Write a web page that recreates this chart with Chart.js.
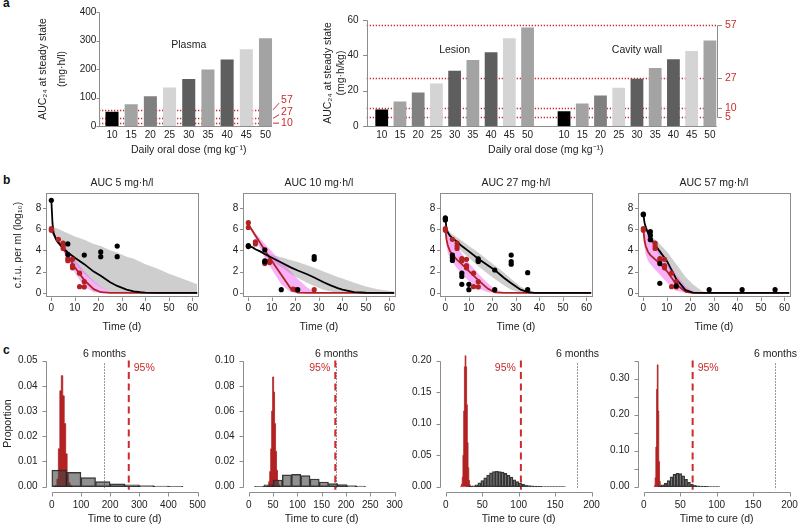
<!DOCTYPE html>
<html>
<head>
<meta charset="utf-8">
<script src="https://cdn.jsdelivr.net/npm/chart.js@4.4.1/dist/chart.umd.min.js"></script>
<style>
  body { margin: 0; background: #fff; width: 800px; height: 526px; overflow: hidden; position: relative; font-family: 'Liberation Sans', Arial, sans-serif; }
  canvas { position: absolute; }
  .tag { position: absolute; font-weight: bold; font-size: 12px; color: #111; }
</style>
</head>
<body>
<div class="tag" style="left:3px;top:-4px">a</div>
<div class="tag" style="left:3px;top:173px">b</div>
<div class="tag" style="left:3px;top:343px">c</div>
<script>
// ---------- panel a: AUC at steady state by dose
const doses = ['10', '15', '20', '25', '30', '35', '40', '45', '50'];
const plasmaAuc = [50, 76, 104, 135, 165, 198, 233, 269, 308];
const lesionAuc = [9.3, 13.8, 19, 24.1, 31.3, 37.4, 41.8, 49.7, 55.8];
const cavityAuc = [8.3, 12.8, 17.2, 21.7, 26.8, 32.9, 37.8, 42.5, 48.4];
const targetAuc = [5, 10, 27, 57];
const plasmaTargets = [10, 27, 57];
const plasmaTicks = [0, 100, 200, 300, 400];
const organTicks = [0, 20, 40, 60];

// ---------- panel b: c.f.u. over time (log10)
const aucLevels = [5, 10, 27, 57];
const tGrid = [0, 0.5, 1, 2, 3, 5, 7, 10, 14, 18, 21, 25, 28, 32, 35, 38, 40, 45, 50, 55, 62];

const median5 = [8.7, 6.5, 5.6, 5.0, 4.7, 4.2, 3.8, 3.3, 2.7, 2.0, 1.6, 1.0, 0.65, 0.3, 0.15, 0.06, 0.03, 0, 0, 0, 0];
const greyUp5 = [6.3, 6.25, 6.2, 6.1, 6.0, 5.8, 5.6, 5.3, 5.0, 4.6, 4.4, 4.0, 3.8, 3.4, 3.2, 2.9, 2.7, 2.3, 1.8, 1.4, 0.8];
const greyLo5 = [6.0, 5.7, 5.4, 4.9, 4.6, 4.0, 3.5, 2.7, 1.8, 1.0, 0.55, 0.15, 0.02, 0, 0, 0, 0, 0, 0, 0, 0];
const redMed5 = [6.0, 5.7, 5.5, 5.1, 4.8, 4.2, 3.5, 2.4, 1.2, 0.35, 0.06, 0, 0, 0, 0, 0, 0, 0, 0, 0, 0];
const pinkUp5 = [6.1, 5.9, 5.7, 5.35, 5.0, 4.5, 4.0, 3.1, 2.0, 1.1, 0.6, 0.15, 0, 0, 0, 0, 0, 0, 0, 0, 0];
const pinkLo5 = [5.9, 5.5, 5.3, 4.9, 4.6, 3.9, 3.1, 1.9, 0.6, 0.05, 0, 0, 0, 0, 0, 0, 0, 0, 0, 0, 0];

const median10 = [4.4, 4.38, 4.35, 4.25, 4.1, 3.9, 3.65, 3.3, 2.85, 2.4, 2.1, 1.75, 1.45, 1.0, 0.7, 0.45, 0.3, 0.07, 0.01, 0, 0];
const greyUp10 = [4.45, 4.43, 4.4, 4.3, 4.15, 3.95, 3.75, 3.55, 3.35, 3.1, 2.9, 2.6, 2.35, 2.0, 1.75, 1.5, 1.35, 0.95, 0.6, 0.35, 0.12];
const greyLo10 = [4.35, 4.33, 4.3, 4.2, 4.05, 3.8, 3.5, 3.0, 2.4, 1.8, 1.4, 0.95, 0.65, 0.3, 0.12, 0.04, 0.02, 0, 0, 0, 0];
const redMed10 = [6.4, 6.25, 6.1, 5.75, 5.4, 4.7, 4.0, 3.0, 1.7, 0.4, 0.02, 0, 0, 0, 0, 0, 0, 0, 0, 0, 0];
const pinkUp10 = [6.5, 6.35, 6.2, 5.9, 5.6, 5.1, 4.6, 3.9, 2.9, 2.0, 1.3, 0.5, 0.1, 0, 0, 0, 0, 0, 0, 0, 0];
const pinkLo10 = [6.3, 6.1, 5.9, 5.5, 5.1, 4.2, 3.3, 2.2, 0.8, 0.05, 0, 0, 0, 0, 0, 0, 0, 0, 0, 0, 0];

const median27 = [7.0, 6.0, 5.7, 5.35, 5.15, 4.8, 4.4, 3.9, 3.2, 2.6, 2.15, 1.4, 0.9, 0.3, 0.07, 0, 0, 0, 0, 0, 0];
const greyUp27 = [6.6, 6.2, 6.0, 5.7, 5.5, 5.2, 4.9, 4.4, 3.8, 3.1, 2.6, 1.9, 1.3, 0.6, 0.25, 0.05, 0, 0, 0, 0, 0];
const greyLo27 = [6.4, 5.7, 5.4, 5.1, 4.9, 4.4, 3.9, 3.3, 2.5, 1.8, 1.3, 0.7, 0.3, 0.02, 0, 0, 0, 0, 0, 0, 0];
const redMed27 = [6.0, 5.0, 4.5, 3.9, 3.6, 3.1, 2.7, 2.05, 1.2, 0.4, 0.05, 0, 0, 0, 0, 0, 0, 0, 0, 0, 0];
const pinkUp27 = [6.1, 5.8, 5.5, 5.2, 5.0, 4.4, 3.7, 2.8, 1.8, 0.9, 0.35, 0.03, 0, 0, 0, 0, 0, 0, 0, 0, 0];
const pinkLo27 = [5.9, 4.5, 3.8, 3.2, 2.9, 2.3, 1.8, 1.1, 0.4, 0.05, 0, 0, 0, 0, 0, 0, 0, 0, 0, 0, 0];

const median57 = [7.4, 6.6, 6.2, 5.6, 5.2, 4.5, 3.9, 3.0, 1.3, 0.25, 0.03, 0, 0, 0, 0, 0, 0, 0, 0, 0, 0];
const greyUp57 = [7.3, 6.5, 6.1, 5.7, 5.4, 5.0, 4.6, 3.9, 2.7, 1.5, 0.8, 0.15, 0.02, 0, 0, 0, 0, 0, 0, 0, 0];
const greyLo57 = [7.3, 6.2, 5.8, 5.2, 4.8, 4.1, 3.5, 2.5, 1.0, 0.1, 0, 0, 0, 0, 0, 0, 0, 0, 0, 0, 0];
const redMed57 = [6.0, 4.9, 4.4, 3.85, 3.55, 3.15, 2.75, 2.05, 0.8, 0.1, 0, 0, 0, 0, 0, 0, 0, 0, 0, 0, 0];
const pinkUp57 = [6.1, 5.8, 5.6, 5.3, 5.0, 4.5, 3.9, 3.0, 1.7, 0.6, 0.15, 0, 0, 0, 0, 0, 0, 0, 0, 0, 0];
const pinkLo57 = [5.9, 4.3, 3.6, 3.0, 2.7, 2.2, 1.7, 1.0, 0.2, 0, 0, 0, 0, 0, 0, 0, 0, 0, 0, 0, 0];

const black5Days = [0, 7, 7, 14, 21, 21, 28, 28];
const black5Cfu = [8.7, 4.6, 3.6, 3.55, 3.85, 3.4, 4.4, 3.4];
const black10Days = [0, 0, 7, 7, 7, 14, 21, 28, 28];
const black10Cfu = [4.45, 4.35, 4.05, 3.0, 2.9, 0.3, 0.3, 3.4, 3.15];
const black27Days = [0, 0, 0, 3, 3, 3, 7, 7, 7, 10, 10, 14, 14, 14, 21, 21, 28, 28, 28, 35, 35];
const black27Cfu = [7.05, 6.95, 6.85, 3.55, 3.3, 3.05, 1.85, 1.55, 0.8, 0.8, 0.3, 3.2, 3.05, 2.95, 2.15, 0.3, 3.55, 2.95, 2.7, 1.9, 0.3];
const black57Days = [0, 0, 3, 3, 3, 7, 7, 14, 28, 42, 56];
const black57Cfu = [7.4, 7.35, 5.75, 5.4, 5.0, 2.75, 0.9, 0.65, 0.3, 0.3, 0.3];
const redDays = [0, 0, 3, 5, 5, 5, 7, 7, 9, 9, 9, 12, 12, 14, 14];
const redCfu = [6.05, 5.88, 5.03, 4.68, 4.4, 4.17, 3.23, 3.03, 3.15, 2.57, 2.35, 1.85, 0.58, 1.05, 0.56];
const red10Days = [0, 0, 3, 3, 7, 7, 9, 9, 19, 20, 28];
const red10Cfu = [6.6, 6.15, 4.8, 4.6, 2.9, 2.75, 3.0, 2.85, 0.35, 0.3, 0.3];

const bXTicks = [0, 10, 20, 30, 40, 50, 60];
const bYTicks = [0, 2, 4, 6, 8];

// ---------- panel c: time to cure histograms
const sixMonths = 180;
const cure95 = [264, 178, 103, 67];

const grey1Days = [25, 75, 125, 175, 225, 275, 325, 375, 425];
const grey1P = [0.0066, 0.0057, 0.0036, 0.002, 0.0011, 0.0007, 0.0004, 0.0002, 0.0001];
const red1Days = [10, 15, 20, 25, 30, 35, 40, 45, 50, 55, 60, 65, 70];
const red1P = [0, 0.0005, 0.003, 0.015, 0.038, 0.044, 0.036, 0.025, 0.013, 0.005, 0.0015, 0.0005, 0];

const grey2Days = [21.5, 40.5, 59.5, 78.5, 97.5, 116.5, 135.5, 154.5, 173.5, 192.5, 211.5, 230.5];
const grey2P = [0.0003, 0.0015, 0.0053, 0.0093, 0.0098, 0.0088, 0.0061, 0.0037, 0.0024, 0.0016, 0.0009, 0.0004];
const red2Days = [38, 40, 42, 44, 46, 48, 50, 52, 54, 56, 58, 60, 62, 64];
const red2P = [0, 0.001, 0.004, 0.012, 0.03, 0.06, 0.087, 0.075, 0.05, 0.028, 0.013, 0.005, 0.0015, 0];

const grey3Days = [30, 34, 38, 42, 46, 50, 54, 58, 62, 66, 70, 74, 78, 82, 86, 90, 94, 98, 102, 106, 110, 114, 118, 122, 126, 130, 134, 138, 142, 146, 150, 154, 158, 162];
const grey3P = [0.0003, 0.0008, 0.0015, 0.003, 0.006, 0.0095, 0.014, 0.0185, 0.022, 0.024, 0.0245, 0.024, 0.023, 0.021, 0.018, 0.015, 0.011, 0.008, 0.0055, 0.0038, 0.0026, 0.0018, 0.0012, 0.0008, 0.0006, 0.0004, 0.0003, 0.0002, 0.00015, 0.0001, 0.0001, 0.00005, 0.00005, 0.00003];
const red3Days = [20, 21, 22, 23, 24, 25, 26, 27, 28, 29, 30, 31, 32, 33, 34, 35];
const red3P = [0, 0.001, 0.004, 0.015, 0.05, 0.12, 0.19, 0.218, 0.19, 0.13, 0.07, 0.03, 0.01, 0.003, 0.001, 0];

const grey4Days = [18, 22, 26, 30, 34, 38, 42, 46, 50, 54, 58, 62, 66, 70, 74, 78, 82, 86, 90, 94, 98, 102];
const grey4P = [0.0005, 0.002, 0.005, 0.009, 0.017, 0.027, 0.034, 0.037, 0.036, 0.03, 0.02, 0.012, 0.007, 0.004, 0.0025, 0.0015, 0.001, 0.0007, 0.0005, 0.0003, 0.0002, 0.0001];
const red4Days = [14, 15, 16, 17, 18, 19, 20, 21, 22, 23, 24];
const red4P = [0, 0.003, 0.025, 0.11, 0.27, 0.338, 0.21, 0.07, 0.015, 0.002, 0];

const c1XTicks = [0, 100, 200, 300, 400, 500];
const c2XTicks = [0, 50, 100, 150, 200, 250, 300];
const c34XTicks = [0, 50, 100, 150, 200];
const c1YTicks = [0, 0.01, 0.02, 0.03, 0.04, 0.05];
const c2YTicks = [0, 0.02, 0.04, 0.06, 0.08, 0.10];
const c3YTicks = [0, 0.05, 0.10, 0.15, 0.20];
const c4YTicks = [0, 0.05, 0.10, 0.15, 0.20, 0.25, 0.30, 0.35];

// ---------- styling
Chart.defaults.font.family = "'Liberation Sans', Arial, Helvetica, sans-serif";
Chart.defaults.font.size = 10;
Chart.defaults.color = '#222';
Chart.defaults.animation = false;
Chart.defaults.responsive = false;
Chart.defaults.plugins.legend.display = false;
Chart.defaults.plugins.tooltip.enabled = false;

const FONT = "'Liberation Sans', Arial, Helvetica, sans-serif";
const AXIS = '#8c8c8c';
const RED = '#b22222';
const RED_TXT = '#cc2b2b';
const PINK = 'rgba(240, 100, 240, 0.5)';
const GREY_BAND = '#cecece';
const greys = ['#000000', '#a3a3a3', '#808080', '#d4d4d4', '#5e5e5e', '#a3a3a3', '#5e5e5e', '#d4d4d4', '#a3a3a3'];

function addCanvas(left, top, w, h) {
  const c = document.createElement('canvas')
  c.width = w
  c.height = h
  c.style.left = left + 'px'
  c.style.top = top + 'px'
  c.style.width = w + 'px'
  c.style.height = h + 'px'
  document.body.appendChild(c)
  return c
}

const pts = (xs, ys) => xs.map((x, i) => ({ x: x, y: ys[i] }));
const setTicks = vals => s => { s.ticks = vals.map(v => ({ value: v })) };
const setW = w => s => { s.width = w };
const setH = h => s => { s.height = h };
const noGrid = { display: false, drawTicks: false };
const noBorder = { display: false };

function label(ctx, text, x, y, opt) {
  opt = opt || {}
  ctx.save()
  ctx.font = (opt.size || 10.5) + 'px ' + FONT
  ctx.fillStyle = opt.color || '#222'
  ctx.textAlign = opt.align || 'center'
  ctx.textBaseline = 'middle'
  ctx.fillText(text, x, y)
  ctx.restore()
}

// R-like axes: line from first to last tick, tick marks pointing outwards
const rAxes = {
  id: 'rAxes',
  afterDraw(chart, args, o) {
    const ctx = chart.ctx, ca = chart.chartArea
    ctx.save()
    ctx.strokeStyle = AXIS
    ctx.lineWidth = 1
    if (o.box) {
      ctx.strokeRect(Math.round(ca.left) + 0.5, Math.round(ca.top) + 0.5, Math.round(ca.right - ca.left), Math.round(ca.bottom - ca.top))
    }
    (o.axes || []).forEach(a => {
      const s = chart.scales[a.id]
      const px = s.ticks.map(t => Math.round(s.getPixelForValue(t.value)) + 0.5)
      ctx.beginPath()
      if (a.side === 'bottom') {
        const y = Math.round(ca.bottom + a.off) + 0.5
        if (a.line) { ctx.moveTo(px[0], y); ctx.lineTo(px[px.length - 1], y) }
        px.forEach(p => { ctx.moveTo(p, y); ctx.lineTo(p, y + a.len) })
      } else {
        const x = a.side === 'left' ? Math.round(ca.left - a.off) + 0.5 : Math.round(ca.right + a.off) + 0.5
        const d = a.side === 'left' ? -a.len : a.len
        if (a.line) { ctx.moveTo(x, px[0]); ctx.lineTo(x, px[px.length - 1]) }
        px.forEach(p => { ctx.moveTo(x, p); ctx.lineTo(x + d, p) })
      }
      ctx.stroke()
    })
    if (o.base) {
      const y = Math.round(chart.scales.y.getPixelForValue(0)) + 0.5
      ctx.beginPath()
      ctx.moveTo(ca.left - o.base[0], y)
      ctx.lineTo(ca.right - o.base[1], y)
      ctx.stroke()
    }
    ctx.restore()
  }
};

function dottedTargets(chart, vals, offL, offR) {
  const ctx = chart.ctx, ca = chart.chartArea, y = chart.scales.y
  ctx.save()
  ctx.strokeStyle = RED_TXT
  ctx.lineWidth = 1.3
  ctx.setLineDash([1.3, 1.7])
  vals.forEach(v => {
    const py = Math.round(y.getPixelForValue(v)) + 0.5
    ctx.beginPath()
    ctx.moveTo(ca.left - offL, py)
    ctx.lineTo(ca.right - offR, py)
    ctx.stroke()
  })
  ctx.restore()
}

// ---------- a, plasma
const plasmaExtra = {
  id: 'plasmaExtra',
  beforeDatasetsDraw(chart) { dottedTargets(chart, plasmaTargets, 3.4, 2) },
  afterDraw(chart) {
    const ctx = chart.ctx, ca = chart.chartArea, x = chart.scales.x, y = chart.scales.y
    let prev = Infinity
    plasmaTargets.forEach(v => {
      const py = y.getPixelForValue(v)
      const ly = Math.min(py, prev - 11.5)
      prev = ly
      ctx.save()
      ctx.strokeStyle = RED_TXT
      ctx.lineWidth = 1
      ctx.beginPath()
      ctx.moveTo(ca.right - 2, py)
      ctx.lineTo(ca.right + 4, ly + Math.min(3, py - ly))
      ctx.stroke()
      ctx.restore()
      label(ctx, String(v), ca.right + 6, ly, { align: 'left', color: RED_TXT })
    })
    label(ctx, 'Plasma', x.getPixelForValue(4), y.getPixelForValue(283))
  }
};

new Chart(addCanvas(0, 0, 300, 160), {
  type: 'bar',
  data: { labels: doses, datasets: [{ data: plasmaAuc, backgroundColor: greys, barPercentage: 0.68, categoryPercentage: 1 }] },
  options: {
    layout: { padding: { top: 7, right: 24.9, left: 0, bottom: 0 } },
    scales: {
      x: {
        grid: noGrid, border: noBorder,
        ticks: { padding: 3.5, maxRotation: 0, autoSkip: false },
        title: { display: true, text: 'Daily oral dose (mg kg⁻¹)', font: { size: 10.5 }, padding: { top: 0, bottom: 3.7 } },
        afterFit: setH(34)
      },
      y: {
        min: 0, max: 400, afterBuildTicks: setTicks(plasmaTicks),
        grid: noGrid, border: noBorder,
        ticks: { padding: 6, autoSkip: false },
        title: { display: true, text: ['AUC₂₄ at steady state', '(mg·h/l)'], font: { size: 10.5, lineHeight: 1.75 }, padding: { top: 34.1, bottom: 0 } },
        afterFit: setW(102.4)
      }
    },
    plugins: { rAxes: { axes: [{ id: 'y', side: 'left', off: 3.4, len: 3, line: true }], base: [3.4, 3] } }
  },
  plugins: [rAxes, plasmaExtra]
});

// ---------- a, lesion and cavity wall
const organLabels = doses.concat([''], doses);
const organAuc = lesionAuc.concat([null], cavityAuc);
const organColors = greys.concat(['#ffffff'], greys);

const organExtra = {
  id: 'organExtra',
  beforeDatasetsDraw(chart) { dottedTargets(chart, targetAuc, 5.9, 2.3) },
  afterDraw(chart) {
    const x = chart.scales.x, y = chart.scales.y
    label(chart.ctx, 'Lesion', x.getPixelForValue(4), y.getPixelForValue(43))
    label(chart.ctx, 'Cavity wall', x.getPixelForValue(doses.length + 5), y.getPixelForValue(43))
  }
};

new Chart(addCanvas(300, 0, 500, 160), {
  type: 'bar',
  data: { labels: organLabels, datasets: [{ data: organAuc, backgroundColor: organColors, barPercentage: 0.7, categoryPercentage: 1 }] },
  options: {
    layout: { padding: { top: 7, right: 0, left: 0, bottom: 0 } },
    scales: {
      x: {
        grid: noGrid, border: noBorder,
        ticks: { padding: 3.5, maxRotation: 0, autoSkip: false },
        title: { display: true, text: 'Daily oral dose (mg kg⁻¹)', font: { size: 10.5 }, padding: { top: 0, bottom: 3.7 } },
        afterFit: setH(34)
      },
      y: {
        min: 0, max: 60, afterBuildTicks: setTicks(organTicks),
        grid: noGrid, border: noBorder,
        ticks: { padding: 14, autoSkip: false },
        title: { display: true, text: ['AUC₂₄ at steady state', '(mg·h/kg)'], font: { size: 10.5, lineHeight: 1.18 }, padding: { top: 22.1, bottom: 0 } },
        afterFit: setW(72.6)
      },
      y2: {
        position: 'right', min: 0, max: 60, afterBuildTicks: setTicks(targetAuc),
        grid: noGrid, border: noBorder,
        ticks: { padding: 6, color: RED_TXT, autoSkip: false, font: { size: 10.5 } },
        afterFit: setW(81)
      }
    },
    plugins: {
      rAxes: {
        axes: [{ id: 'y', side: 'left', off: 5.9, len: 4.5, line: true }, { id: 'y2', side: 'right', off: -2.3, len: 4.5, line: true }],
        base: [5.9, 2.3]
      }
    }
  },
  plugins: [rAxes, organExtra]
});

// ---------- b panels
const bPanels = [
  { auc: aucLevels[0], median: median5, greyUp: greyUp5, greyLo: greyLo5, redMed: redMed5, pinkUp: pinkUp5, pinkLo: pinkLo5, bDays: black5Days, bCfu: black5Cfu, rDays: redDays, rCfu: redCfu },
  { auc: aucLevels[1], median: median10, greyUp: greyUp10, greyLo: greyLo10, redMed: redMed10, pinkUp: pinkUp10, pinkLo: pinkLo10, bDays: black10Days, bCfu: black10Cfu, rDays: red10Days, rCfu: red10Cfu },
  { auc: aucLevels[2], median: median27, greyUp: greyUp27, greyLo: greyLo27, redMed: redMed27, pinkUp: pinkUp27, pinkLo: pinkLo27, bDays: black27Days, bCfu: black27Cfu, rDays: redDays, rCfu: redCfu },
  { auc: aucLevels[3], median: median57, greyUp: greyUp57, greyLo: greyLo57, redMed: redMed57, pinkUp: pinkUp57, pinkLo: pinkLo57, bDays: black57Days, bCfu: black57Cfu, rDays: redDays, rCfu: redCfu }
];
const panelLefts = [0, 197, 394, 592];

bPanels.forEach((p, i) => {
  const flat = { type: 'line', borderWidth: 0, borderColor: 'transparent', pointRadius: 0, tension: 0 }
  new Chart(addCanvas(panelLefts[i], 163, 204, 172), {
    type: 'scatter',
    data: {
      datasets: [
        { type: 'scatter', data: pts(p.bDays, p.bCfu), backgroundColor: '#000', pointRadius: 2.6, borderWidth: 0, order: 0 },
        { type: 'scatter', data: pts(p.rDays, p.rCfu), backgroundColor: RED, pointRadius: 2.6, borderWidth: 0, order: 1 },
        { type: 'line', data: pts(tGrid, p.median), borderColor: '#000', borderWidth: 1.8, pointRadius: 0, tension: 0, order: 2 },
        { type: 'line', data: pts(tGrid, p.redMed), borderColor: RED, borderWidth: 1.8, pointRadius: 0, tension: 0, order: 3 },
        Object.assign({ data: pts(tGrid, p.pinkUp), fill: false, order: 4 }, flat),
        Object.assign({ data: pts(tGrid, p.pinkLo), fill: { target: 4 }, backgroundColor: PINK, order: 4 }, flat),
        Object.assign({ data: pts(tGrid, p.greyUp), fill: false, order: 5 }, flat),
        Object.assign({ data: pts(tGrid, p.greyLo), fill: { target: 6 }, backgroundColor: GREY_BAND, order: 5 }, flat)
      ]
    },
    options: {
      layout: { padding: { top: 30.3, right: 4.7, left: 0, bottom: 0 } },
      scales: {
        x: {
          type: 'linear', min: -2.4, max: 62.4, afterBuildTicks: setTicks(bXTicks),
          grid: noGrid, border: noBorder,
          ticks: { padding: 5.8, maxRotation: 0, autoSkip: false },
          title: { display: true, text: 'Time (d)', font: { size: 10.5 }, padding: { top: 0, bottom: 1.7 } },
          afterFit: setH(38.3)
        },
        y: {
          min: -0.36, max: 9.36, afterBuildTicks: setTicks(bYTicks),
          grid: noGrid, border: noBorder,
          ticks: { padding: 4.5, autoSkip: false },
          title: { display: i === 0, text: 'c.f.u. per ml (log₁₀)', font: { size: 10.5 }, padding: { top: 12, bottom: 0 } },
          afterFit: setW(45.7)
        }
      },
      plugins: {
        rAxes: { box: true, axes: [{ id: 'x', side: 'bottom', off: 0, len: 3.5 }, { id: 'y', side: 'left', off: 0, len: 3.5 }] }
      }
    },
    plugins: [rAxes, {
      id: 'bTitle',
      afterDraw(chart) {
        const ca = chart.chartArea
        label(chart.ctx, 'AUC ' + p.auc + ' mg·h/l', (ca.left + ca.right) / 2, ca.top - 10.3)
      }
    }]
  })
});

// ---------- c panels
const cPanels = [
  { gDays: grey1Days, gP: grey1P, rDays: red1Days, rP: red1P, xTicks: c1XTicks, yTicks: c1YTicks, cure: cure95[0], side: 'right' },
  { gDays: grey2Days, gP: grey2P, rDays: red2Days, rP: red2P, xTicks: c2XTicks, yTicks: c2YTicks, cure: cure95[1], side: 'left' },
  { gDays: grey3Days, gP: grey3P, rDays: red3Days, rP: red3P, xTicks: c34XTicks, yTicks: c3YTicks, cure: cure95[2], side: 'left' },
  { gDays: grey4Days, gP: grey4P, rDays: red4Days, rP: red4P, xTicks: c34XTicks, yTicks: c4YTicks, cure: cure95[3], side: 'right' }
];

cPanels.forEach((p, i) => {
  const xTop = p.xTicks[p.xTicks.length - 1]
  const yTop = p.yTicks[p.yTicks.length - 1]
  new Chart(addCanvas(panelLefts[i], 340, 214, 186), {
    type: 'bar',
    data: {
      datasets: [
        { type: 'bar', data: pts(p.gDays, p.gP), backgroundColor: 'rgba(70, 70, 70, 0.6)', borderColor: 'rgba(30, 30, 30, 0.9)', borderWidth: 0.8, borderSkipped: false, barPercentage: 1, categoryPercentage: 1, order: 1 },
        { type: 'line', data: pts(p.rDays, p.rP), stepped: 'middle', fill: 'origin', backgroundColor: RED, borderColor: RED, borderWidth: 0.8, pointRadius: 0, order: 2 }
      ]
    },
    options: {
      layout: { padding: { top: 15.5, right: 8, left: 0, bottom: 0 } },
      scales: {
        x: {
          type: 'linear', offset: false, min: -0.04 * xTop, max: 1.04 * xTop, afterBuildTicks: setTicks(p.xTicks),
          grid: noGrid, border: noBorder,
          ticks: { padding: 7.8, maxRotation: 0, autoSkip: false },
          title: { display: true, text: 'Time to cure (d)', font: { size: 10.5 }, padding: { top: 0, bottom: 0.7 } },
          afterFit: setH(34.3)
        },
        y: {
          min: -0.04 * yTop, max: 1.04 * yTop, afterBuildTicks: setTicks(p.yTicks),
          grid: noGrid, border: noBorder,
          ticks: {
            padding: 8.5, autoSkip: false,
            callback: v => (i === 3 && Math.round(v * 100) % 10 !== 0) ? '' : v.toFixed(2)
          },
          title: { display: i === 0, text: 'Proportion', font: { size: 10.5 }, padding: { top: 2, bottom: 0 } },
          afterFit: setW(46)
        }
      },
      plugins: {
        rAxes: { axes: [{ id: 'x', side: 'bottom', off: 0, len: 4, line: true }, { id: 'y', side: 'left', off: 0, len: 4, line: true }] }
      }
    },
    plugins: [rAxes, {
      id: 'cureLines',
      afterDatasetsDraw(chart) {
        const ctx = chart.ctx, ca = chart.chartArea, x = chart.scales.x, y = chart.scales.y
        const top = y.getPixelForValue(yTop)
        const x6 = Math.round(x.getPixelForValue(sixMonths)) + 0.5
        const x95 = x.getPixelForValue(p.cure)
        ctx.save()
        ctx.strokeStyle = '#333'
        ctx.lineWidth = 1
        ctx.setLineDash([1, 2])
        ctx.beginPath()
        ctx.moveTo(x6, top + 3)
        ctx.lineTo(x6, ca.bottom - 2)
        ctx.stroke()
        ctx.strokeStyle = RED_TXT
        ctx.lineWidth = 2
        ctx.setLineDash([7, 4.5])
        ctx.beginPath()
        ctx.moveTo(x95, top)
        ctx.lineTo(x95, ca.bottom - 2)
        ctx.stroke()
        ctx.restore()
        label(ctx, '6 months', x6, top - 6)
        label(ctx, '95%', x95 + (p.side === 'right' ? 5 : -5), top + 8, { align: p.side === 'right' ? 'left' : 'right', color: RED_TXT })
      }
    }]
  })
});
</script>
</body>
</html>
